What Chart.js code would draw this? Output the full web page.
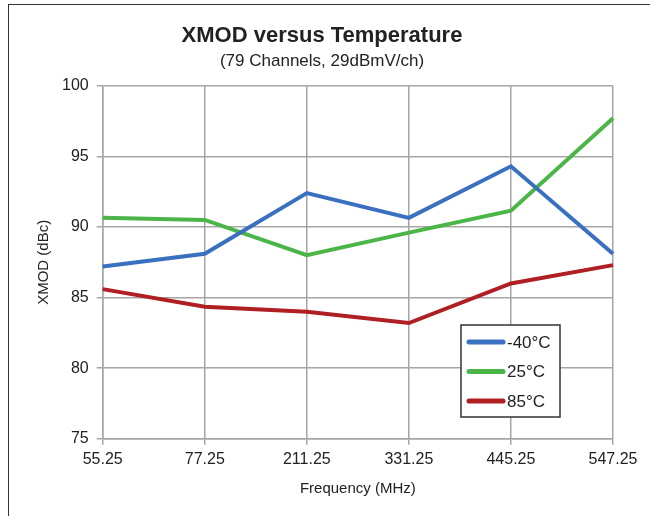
<!DOCTYPE html>
<html>
<head>
<meta charset="utf-8">
<script src="https://cdn.jsdelivr.net/npm/chart.js@4/dist/chart.umd.min.js"></script>
<style>
  html, body { margin: 0; padding: 0; background: #fff; }
  #wrap { position: relative; width: 650px; height: 516px; }
  #frame { position: absolute; left: 8px; top: 4px; right: -10px; bottom: -10px;
           border-left: 1.5px solid #333; border-top: 1.5px solid #333; }
  canvas { position: absolute; left: 0; top: 0; }
</style>
</head>
<body>
<div id="wrap">
  <div id="frame"></div>
  <canvas id="xmodChart" width="650" height="516"></canvas>
</div>
<script>
// Frequencies (MHz) on the x axis
const frequencies = ["55.25", "77.25", "211.25", "331.25", "445.25", "547.25"];

// XMOD readings (dBc) for each temperature
const minus40 = [87.2, 88.1, 92.4, 90.65, 94.3, 88.1];
const plus25 = [90.65, 90.5, 88.0, 89.6, 91.15, 97.7];
const plus85 = [85.6, 84.35, 84.0, 83.2, 86.0, 87.3];

const seriesLabels = ["-40°C", "25°C", "85°C"];
const seriesColors = ["#3a70c0", "#4cb548", "#b01f24"];

const FONT = "'Liberation Sans', Arial, sans-serif";

// Draw the legend box inside the plot, like the original
const insideLegend = {
  id: "insideLegend",
  afterDraw(chart) {
    const ctx = chart.ctx;
    const x = 461, y = 325, w = 99, h = 92;
    ctx.save();
    ctx.fillStyle = "#fff";
    ctx.fillRect(x, y, w, h);
    ctx.strokeStyle = "#333";
    ctx.lineWidth = 1.5;
    ctx.strokeRect(x, y, w, h);
    ctx.font = "17px " + FONT;
    ctx.textBaseline = "middle";
    chart.data.datasets.forEach((ds, i) => {
      const ly = y + 17 + i * 29.5;
      ctx.strokeStyle = ds.borderColor;
      ctx.lineWidth = 5;
      ctx.lineCap = "round";
      ctx.beginPath();
      ctx.moveTo(x + 8, ly);
      ctx.lineTo(x + 42, ly);
      ctx.stroke();
      ctx.fillStyle = "#222";
      ctx.fillText(ds.label, x + 46, ly + 1);
    });
    ctx.restore();
  }
};

const ctx = document.getElementById("xmodChart").getContext("2d");
new Chart(ctx, {
  type: "line",
  data: {
    labels: frequencies,
    datasets: [minus40, plus25, plus85].map((values, i) => ({
      label: seriesLabels[i],
      data: values,
      borderColor: seriesColors[i],
      backgroundColor: seriesColors[i],
      borderWidth: 4,
      pointRadius: 0,
      tension: 0,
      fill: false
    }))
  },
  options: {
    responsive: false,
    animation: false,
    layout: { padding: { left: 31, right: 37, top: 10, bottom: 14 } },
    plugins: {
      legend: { display: false },
      tooltip: { enabled: false },
      title: {
        display: true,
        text: "XMOD versus Temperature",
        color: "#222",
        font: { family: FONT, size: 22, weight: "bold" },
        padding: { top: 13, bottom: 0 }
      },
      subtitle: {
        display: true,
        text: "(79 Channels, 29dBmV/ch)",
        color: "#222",
        font: { family: FONT, size: 17 },
        padding: { top: 2, bottom: 14 }
      }
    },
    scales: {
      x: {
        offset: false,
        grid: { color: "#a6a6a6", lineWidth: 1.5, tickLength: 6, drawTicks: true },
        border: { color: "#a6a6a6", width: 1.5 },
        ticks: { color: "#222", font: { family: FONT, size: 16 }, padding: 5, maxRotation: 0 },
        title: {
          display: true,
          text: "Frequency (MHz)",
          color: "#222",
          font: { family: FONT, size: 15 },
          padding: { top: 6 }
        }
      },
      y: {
        min: 75,
        max: 100,
        grid: { color: "#a6a6a6", lineWidth: 1.5, tickLength: 6 },
        border: { color: "#a6a6a6", width: 1.5 },
        ticks: { stepSize: 5, color: "#222", font: { family: FONT, size: 16 }, padding: 8 },
        title: {
          display: true,
          text: "XMOD (dBc)",
          color: "#222",
          font: { family: FONT, size: 15 },
          padding: { bottom: 1 }
        }
      }
    }
  },
  plugins: [insideLegend]
});
</script>
</body>
</html>
